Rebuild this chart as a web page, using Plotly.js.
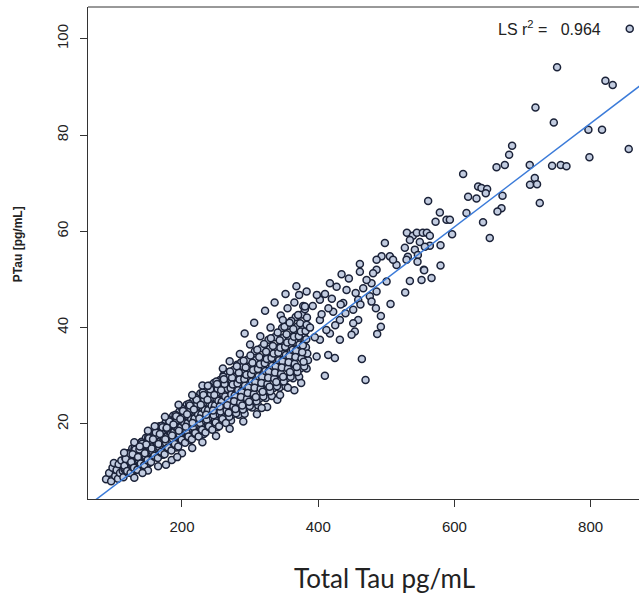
<!DOCTYPE html>
<html>
<head>
<meta charset="utf-8">
<script src="https://cdn.plot.ly/plotly-3.0.1.min.js"></script>
<style>html,body{margin:0;padding:0;background:#fff;}#chart{width:639px;height:593px;}</style>
</head>
<body>
<div id="chart"></div>
<script>
// Dense band: Total Tau (pg/mL)
var bandTau = [
88.5,93,96, 98,100,102,104,106, 107,109,111,113,114,116, 117,118,120,121,122,123,124,125,
126,133,129,134,127,131,125,132,130,135,
142,137,145,139,143,136,140,144,138,141,
146,153,149,154,147,151,145,152,150,155,
162,157,165,159,163,156,160,164,158,161,
166,173,169,174,167,171,165,172,170,175,
182,177,185,179,183,176,180,184,178,181,
186,193,189,194,187,191,185,192,190,195,
202,197,205,199,203,196,200,204,198,201,
206,213,209,214,207,211,205,212,210,215,
222,217,225,219,223,216,220,224,218,221,
226,233,229,234,227,231,225,232,230,235,
242,237,245,239,243,236,240,244,238,241,
246,253,249,254,247,251,245,252,250,255,
262,257,265,259,263,256,260,264,258,261,
266,273,269,274,267,271,265,272,270,275,
282,277,285,279,283,276,280,284,278,281,
286,293,289,294,287,291,285,292,290,295,
302,297,305,299,303,296,300,304,
306,313,309,314,307,311,305,312,
322,317,325,319,323,316,320,324,
326,333,329,334,327,331,325,332,
342,337,345,339,343,336,340,344,
346,353,349,354,347,351,345,352,
362,357,365,359,363,356,360,364,
366,373,369,374,367,371,365,372,
382,377,385,379,383,376,380,384
];
// Dense band: PTau (pg/mL)
var bandPTau = [
8.5,9.8,8.1, 10.9,11.9,9.2,10.4,8.6, 11.6,9.8,12.4,10.2,8.9,11.1, 12.9,10.6,13.6,11.3,9.9,12.2,14.0,10.8,
12.9,12.0,14.1,11.0,14.9,12.5,13.5,10.4,14.5,11.5,
13.2,14.9,12.1,14.2,11.5,15.8,13.7,12.7,15.1,16.3,
14.9,13.8,16.3,12.6,17.1,14.3,15.6,11.9,16.7,13.2,
15.0,17.0,13.8,16.2,13.1,18.0,15.6,14.4,17.3,18.6,
16.9,15.6,18.5,14.4,19.5,16.3,17.7,13.6,19.0,15.0,
16.9,19.1,15.6,18.3,14.7,20.3,17.6,16.2,19.5,21.0,
18.9,17.4,20.7,16.0,21.7,18.1,19.8,15.1,21.2,16.7,
18.7,21.2,17.2,20.3,16.3,22.5,19.5,18.0,21.6,23.3,
20.8,19.2,22.8,17.6,24.0,20.0,21.8,16.6,23.4,18.4,
20.4,23.2,18.7,22.2,17.6,24.7,21.3,19.6,23.7,25.6,
22.7,20.9,24.9,19.0,26.3,21.8,23.8,17.9,25.6,20.0,
22.1,25.3,20.2,24.1,19.0,26.9,23.1,21.2,25.7,27.9,
24.5,22.5,27.0,20.5,28.5,23.5,25.8,19.3,27.8,21.5,
23.9,27.2,21.8,25.9,20.5,29.1,24.9,22.8,27.8,30.1,
26.3,24.2,29.0,22.0,30.7,25.3,27.7,20.7,29.9,23.1,
25.6,29.2,23.3,27.8,21.9,31.2,26.7,24.5,29.8,32.3,
28.2,25.9,31.1,23.5,32.8,27.0,29.6,22.1,31.9,24.7,
27.3,31.2,24.9,29.7,23.4,33.3,28.5,26.1,
30.2,27.8,33.3,25.3,35.1,29.0,31.7,23.8,
29.5,33.5,27.0,31.9,25.4,35.7,30.7,28.2,
32.4,29.9,35.6,27.4,37.5,31.2,34.0,25.8,
31.6,35.8,29.1,34.2,27.5,38.0,32.9,30.3,
34.7,32.1,37.9,29.5,39.9,33.4,36.3,27.8,
33.8,38.1,31.1,36.4,29.5,40.4,35.1,32.5,
36.9,34.2,40.2,31.5,42.2,35.5,38.5,29.8,
35.9,40.4,33.2,38.7,31.5,42.7,37.3,34.6
];
// Second layer of the dense band: Total Tau (pg/mL)
var coreTau = [
121.5,117.5,123.5,115.5,122.5,119.5,124.5,116.5,120.5,118.5, 118.5,120.5,116.5,122.5,115.5,123.5,119.5,121.5,124.5,117.5,
131.5,127.5,133.5,125.5,132.5,129.5,134.5,126.5,130.5,128.5, 128.5,130.5,126.5,132.5,125.5,133.5,129.5,131.5,134.5,127.5,
141.5,137.5,143.5,135.5,142.5,139.5,144.5,136.5,140.5,138.5, 138.5,140.5,136.5,142.5,135.5,143.5,139.5,141.5,144.5,137.5,
151.5,147.5,153.5,145.5,152.5,149.5,154.5,146.5,150.5,148.5, 148.5,150.5,146.5,152.5,145.5,153.5,149.5,151.5,154.5,147.5,
161.5,157.5,163.5,155.5,162.5,159.5,164.5,156.5,160.5,158.5, 158.5,160.5,156.5,162.5,155.5,163.5,159.5,161.5,164.5,157.5,
171.5,167.5,173.5,165.5,172.5,169.5,174.5,166.5,170.5,168.5, 168.5,170.5,166.5,172.5,165.5,173.5,169.5,171.5,174.5,167.5,
181.5,177.5,183.5,175.5,182.5,179.5,184.5,176.5,180.5,178.5, 178.5,180.5,176.5,182.5,175.5,183.5,179.5,181.5,184.5,177.5,
191.5,187.5,193.5,185.5,192.5,189.5,194.5,186.5,190.5,188.5, 188.5,190.5,186.5,192.5,185.5,193.5,189.5,191.5,194.5,187.5,
201.5,197.5,203.5,195.5,202.5,199.5,204.5,196.5,200.5,198.5, 198.5,200.5,196.5,202.5,195.5,203.5,199.5,201.5,204.5,197.5,
211.5,207.5,213.5,205.5,212.5,209.5,214.5,206.5,210.5,208.5, 208.5,210.5,206.5,212.5,205.5,213.5,209.5,211.5,214.5,207.5,
221.5,217.5,223.5,215.5,222.5,219.5,224.5,216.5,220.5,218.5, 218.5,220.5,216.5,222.5,215.5,223.5,219.5,221.5,224.5,217.5,
231.5,227.5,233.5,225.5,232.5,229.5,234.5,226.5,230.5,228.5, 228.5,230.5,226.5,232.5,225.5,233.5,229.5,231.5,234.5,227.5,
241.5,237.5,243.5,235.5,242.5,239.5,244.5,236.5,240.5,238.5, 238.5,240.5,236.5,242.5,235.5,243.5,239.5,241.5,244.5,237.5,
251.5,247.5,253.5,245.5,252.5,249.5,254.5,246.5,250.5,248.5, 248.5,250.5,246.5,252.5,245.5,253.5,249.5,251.5,254.5,247.5,
261.5,257.5,263.5,255.5,262.5,259.5,264.5,256.5,260.5,258.5, 258.5,260.5,256.5,262.5,255.5,263.5,259.5,261.5,264.5,257.5,
271.5,267.5,273.5,265.5,272.5,269.5,274.5,266.5,270.5,268.5,
281.5,277.5,283.5,275.5,282.5,279.5,284.5,276.5,280.5,278.5,
291.5,287.5,293.5,285.5,292.5,289.5,294.5,286.5,290.5,288.5,
301.5,297.5,303.5,295.5,302.5,299.5,304.5,296.5,300.5,298.5,
311.5,307.5,313.5,305.5,312.5,309.5,314.5,306.5,310.5,308.5,
321.5,317.5,323.5,315.5,322.5,319.5,324.5,316.5,320.5,318.5,
331.5,327.5,333.5,325.5,332.5,329.5,334.5,326.5,330.5,328.5,
341.5,337.5,343.5,335.5,342.5,339.5,344.5,336.5,340.5,338.5,
351.5,347.5,353.5,345.5,352.5,349.5,354.5,346.5,350.5,348.5,
361.5,357.5,363.5,355.5,362.5,359.5,364.5,356.5,360.5,358.5,
371.5,367.5,373.5,365.5,372.5,369.5,374.5,366.5,370.5,368.5,
381.5,377.5,383.5,375.5,382.5,379.5,384.5,376.5,380.5,378.5
];
// Second layer of the dense band: PTau (pg/mL)
var corePTau = [
12.5,11.5,13.3,10.6,11.9,10.0,12.8,11.0,13.9,10.4, 11.7,12.4,10.8,13.2,11.3,12.1,10.2,13.7,9.8,12.7,
13.4,12.3,14.4,11.4,12.8,10.8,13.8,11.9,15.0,11.1, 12.6,13.3,11.6,14.3,12.1,13.1,10.9,14.7,10.5,13.7,
14.5,13.3,15.5,12.3,13.8,11.6,14.9,12.8,16.2,12.0, 13.6,14.4,12.5,15.4,13.1,14.1,11.8,15.9,11.4,14.7,
15.4,14.2,16.6,13.1,14.7,12.4,15.9,13.6,17.3,12.8, 14.5,15.3,13.3,16.4,13.9,15.0,12.5,17.0,12.1,15.7,
16.5,15.2,17.7,14.0,15.8,13.2,17.0,14.6,18.5,13.7, 15.5,16.4,14.3,17.6,14.9,16.1,13.4,18.2,12.9,16.8,
17.6,16.1,18.8,14.8,16.8,14.0,18.0,15.5,19.6,14.5, 16.4,17.4,15.2,18.7,15.8,17.1,14.2,19.3,13.7,17.9,
18.6,17.1,20.0,15.7,17.8,14.9,19.1,16.4,20.8,15.4, 17.4,18.5,16.1,19.8,16.8,18.1,15.1,20.5,14.5,19.0,
19.6,18.0,21.0,16.5,18.7,15.6,20.1,17.2,21.9,16.2, 18.3,19.4,16.9,20.8,17.6,19.0,15.8,21.6,15.3,19.9,
20.6,18.9,22.2,17.4,19.7,16.5,21.2,18.2,23.1,17.0, 19.3,20.5,17.8,22.0,18.6,20.1,16.7,22.7,16.1,21.0,
21.6,19.8,23.2,18.2,20.6,17.2,22.2,19.0,24.2,17.8, 20.2,21.4,18.6,23.0,19.4,21.0,17.4,23.8,16.8,22.0,
22.6,20.7,24.3,18.9,21.5,17.9,23.2,19.8,25.4,18.5, 21.1,22.4,19.4,24.1,20.2,22.0,18.1,25.0,17.4,23.0,
23.6,21.5,25.4,19.7,22.4,18.6,24.2,20.6,26.5,19.3, 22.0,23.3,20.2,25.1,21.1,22.9,18.8,26.0,18.2,24.0,
24.5,22.4,26.5,20.5,23.3,19.3,25.3,21.4,27.7,20.0, 22.9,24.3,20.9,26.2,21.9,23.8,19.5,27.2,18.8,25.0,
25.5,23.3,27.5,21.3,24.3,20.0,26.3,22.3,28.8,20.8, 23.8,25.3,21.8,27.3,22.8,24.8,20.3,28.3,19.5,26.0,
26.5,24.1,28.5,22.0,25.2,20.7,27.2,23.1,29.8,21.5, 24.6,26.2,22.6,28.3,23.6,25.7,21.0,29.3,20.2,27.0,
27.4,25.0,29.6,22.8,26.1,21.5,28.2,23.9,30.9,22.3,
28.4,25.9,30.6,23.6,27.0,22.2,29.2,24.7,32.0,23.1,
29.3,26.7,31.7,24.4,27.9,23.0,30.2,25.6,33.1,23.8,
30.3,27.6,32.7,25.2,28.8,23.7,31.2,26.4,34.2,24.6,
31.4,28.7,33.9,26.2,29.9,24.7,32.4,27.5,35.4,25.6,
32.6,29.8,35.0,27.3,31.0,25.7,33.5,28.5,36.6,26.7,
33.7,30.9,36.2,28.3,32.1,26.8,34.6,29.6,37.8,27.7,
34.8,31.9,37.4,29.4,33.2,27.8,35.8,30.7,39.0,28.7,
36.0,33.0,38.6,30.4,34.3,28.8,36.9,31.7,40.2,29.8,
37.1,34.1,39.7,31.5,35.4,29.8,38.1,32.8,41.4,30.8,
38.2,35.2,40.9,32.5,36.5,30.8,39.2,33.9,42.6,31.8,
39.3,36.3,42.1,33.6,37.6,31.9,40.4,34.9,43.8,32.9
];
// Ragged edge points of the band: Total Tau / PTau (pg/mL)
var edgeTau = [
115,130,150,160,175,195,215,230,260,270,285,300,315,330,345,355,365,372,378,
130,150,165,185,200,215,230,250,270,290,310,325,340,365,375,
292,306,322,336,352,368
];
var edgePTau = [
14.0,16.2,18.6,19.5,21.5,24.0,26.0,28.0,31.5,33.0,34.5,36.5,38.2,40.0,42.5,44.0,45.2,46.8,44.5,
8.8,10.3,11.2,12.5,13.9,15.0,16.2,17.5,19.0,20.5,22.0,23.5,25.0,27.0,28.5,
38.8,41.0,43.5,45.2,47.0,48.6
];
// Scattered points above 380 pg/mL and isolated points: Total Tau (pg/mL)
var sparseTau = [
857.4,750.7,821.7,832.4,719,745.9,796.7,816.7,855.9,798.2,684.7,680.3,674,661.8,710.6,743.4,756.1,764.5,
718,711,721.3,725.3,612.8,634.8,639.7,648,646,620.1,632.4,670.6,561.4,578.6,617.7,669.1,663.2,572.3,
588.4,593.3,642,596.6,651.9,579.6,579.6,566.4,551.7,534.6,555.1,
530.2,539,544.8,553.6,559.5,563.9,534.6,549.2,563.9,527.2,541.9,556.6,531.6,546.3,
555.6,527.7,506.2,492,492,486.6,484.7,464.1,469.5,409.8,434.3,383,461.2,505.2,515,529.7,545.8,
422,451.4,458.7,453.8,475.8,478.3,485.7,471,493,424.5,397.7,414.7,431.8,449,451.4,436.7,441.6,
458.7,466.1,478.3,485.7,402.5,417.2,417.2,402.5,380.5,383,431.8,402.5,
392,398,405,410,415,420,427,433,388,395,412,425,440,445,455,462,497.9,485.7,509.9,480.6,500.4,461.2,
142,176.5,193,138,177.6,344,355.5,317,358,348,238
];
// Scattered points above 380 pg/mL and isolated points: PTau (pg/mL)
var sparsePTau = [
102.1,94.1,91.3,90.4,85.7,82.6,81.1,81.1,77.1,75.4,77.8,75.9,73.8,73.3,73.8,73.6,73.8,73.5,
71.1,69.7,69.8,65.9,71.9,69.3,69.0,68.8,67.9,67.2,66.8,67.4,66.3,63.9,63.8,64.8,64.1,62.0,
62.4,62.4,61.9,59.4,58.6,57.1,52.9,50.3,49.9,49.7,52.0,
59.7,59.1,59.7,59.7,59.7,59.1,58.2,57.8,57.0,56.6,56.2,56.8,54.7,55.1,
51.9,47.3,44.9,42.4,40.2,38.7,44.0,33.5,29.1,30.0,51.1,47.5,53.2,54.8,53.0,54.1,53.7,
43.3,43.7,41.6,39.2,46.5,49.2,52.0,49.9,54.8,33.7,34.0,34.3,37.5,38.5,40.9,45.1,47.8,
45.8,48.2,45.4,47.5,45.8,49.2,38.8,37.5,44.4,40.6,41.6,41.6,
44.5,46.8,42.8,47.0,44.0,46.0,48.5,44.8,40.0,38.0,39.5,40.5,43.0,50.2,47.2,44.8,57.6,54.1,54.1,51.3,49.6,51.6,
9.8,11.5,13.1,15.3,19.2,26.0,27.5,23.3,41.0,41.6,27.9
];
// least-squares fit line end points
var fitX = [60, 900];
var fitY = [2.8, 93.2];
var xTicks = [200, 400, 600, 800];
var yTicks = [20, 40, 60, 80, 100];
var fitLabel = 'LS r<sup>2</sup> =   0.964';

var allTau = bandTau.concat(coreTau, edgeTau, sparseTau);
var allPTau = bandPTau.concat(corePTau, edgePTau, sparsePTau);

var traces = [
  {x: allTau, y: allPTau, type: 'scatter', mode: 'markers',
   marker: {symbol: 'circle', size: 7, color: '#c2cce0', line: {color: '#1b2238', width: 1.5}},
   hoverinfo: 'x+y', showlegend: false},
  {x: fitX, y: fitY, type: 'scatter', mode: 'lines',
   line: {color: '#3b7bd9', width: 1.5}, showlegend: false, hoverinfo: 'skip'}
];

var layout = {
  width: 639, height: 593,
  margin: {l: 88, r: 0, t: 7, b: 94, pad: 0},
  paper_bgcolor: '#fff', plot_bgcolor: '#fff',
  font: {family: 'Liberation Sans, Arial, sans-serif', color: '#222'},
  xaxis: {range: [62, 871], tickvals: xTicks, ticktext: xTicks.map(String),
    showgrid: false, zeroline: false, showline: true, linecolor: '#333', linewidth: 1,
    ticks: 'outside', ticklen: 7, tickcolor: '#333', tickwidth: 1,
    tickfont: {size: 15, color: '#222'}, ticklabelstandoff: 7},
  yaxis: {range: [4.4, 106.6], tickvals: yTicks, ticktext: yTicks.map(String),
    showgrid: false, zeroline: false, showline: true, linecolor: '#333', linewidth: 1,
    ticks: 'outside', ticklen: 7, tickcolor: '#333', tickwidth: 1, tickangle: -90,
    tickfont: {size: 15, color: '#222'}, ticklabelstandoff: 6},
  shapes: [{type: 'line', xref: 'paper', yref: 'paper', x0: 0, x1: 1, y0: 1, y1: 1,
    line: {color: '#333', width: 1}}],
  annotations: [
    {text: fitLabel, xref: 'paper', yref: 'paper', x: 0.741, y: 0.957, xanchor: 'left', yanchor: 'middle',
     showarrow: false, font: {size: 16, color: '#222'}},
    {text: '<b>PTau [pg/mL]</b>', xref: 'paper', yref: 'paper', x: 0, xshift: -70, y: 0.518, textangle: -90,
     xanchor: 'center', yanchor: 'middle', showarrow: false, font: {size: 12, color: '#222'}},
    {text: 'Total Tau pg/mL', xref: 'paper', yref: 'paper', x: 0.539, y: 0, yshift: -79,
     xanchor: 'center', yanchor: 'middle', showarrow: false,
     font: {family: 'Lato, Open Sans, sans-serif', size: 26, color: '#222'}}
  ]
};

Plotly.newPlot('chart', traces, layout, {displayModeBar: false, staticPlot: true});
</script>
</body>
</html>
